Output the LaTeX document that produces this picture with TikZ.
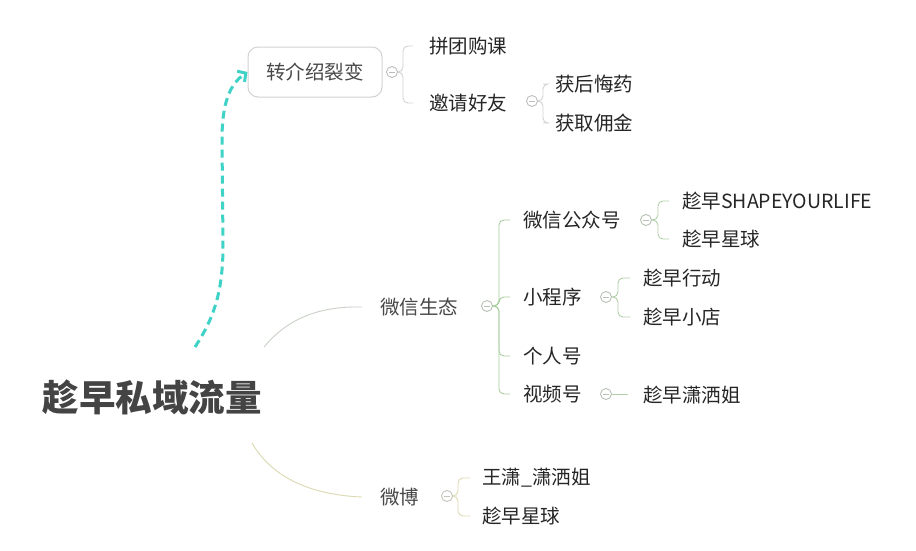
\documentclass[tikz,border=0pt]{standalone}
\usepackage{fontspec}
\setmainfont{Noto Sans CJK SC}
\usetikzlibrary{arrows.meta}
\definecolor{txt}{HTML}{262626}
\definecolor{midtxt}{HTML}{484848}
\definecolor{rootc}{HTML}{444444}
\definecolor{greyline}{HTML}{D2D2D2}
\definecolor{greenline}{HTML}{A9CE9E}
\definecolor{beige}{HTML}{DCD9B2}
\definecolor{foldc}{HTML}{BDBDBD}
\definecolor{teal}{HTML}{3FD2C6}
\tikzset{
  leaf/.style={anchor=west, inner sep=0pt, text=txt, font=\fontsize{19.5}{19.5}\selectfont},
  mid/.style={anchor=west, inner sep=0pt, text=midtxt, font=\fontsize{19.5}{19.5}\selectfont},
  fold/.style={circle, draw=#1, line width=0.9pt, minimum size=11pt, inner sep=0pt, fill=white,
    path picture={\draw[#1, line width=0.9pt] ([xshift=-2.6pt]path picture bounding box.center) -- ([xshift=2.6pt]path picture bounding box.center);}},
  fold/.default=foldc,
  brk/.style={draw=#1, line width=0.9pt, rounded corners=5pt},
  boxst/.style={draw=greyline, line width=1pt, rounded corners=10pt, minimum width=134pt, minimum height=50pt, inner sep=0pt, text=midtxt, font=\fontsize{19.5}{19.5}\selectfont},
}
\begin{document}
\begin{tikzpicture}[x=1pt,y=-1pt]
\useasboundingbox[fill=white] (0,0) rectangle (916,550);

% root
\node[inner sep=0pt, text=rootc, font=\fontsize{36.5}{36.5}\selectfont\bfseries] (root) at (152,397) {趁早私域流量};

% referral branch
\node[boxst] (zj) at (315,72) {转介绍裂变};
\node[fold] (f1) at (392,72) {};
\node[leaf] (pt) at (429,46) {拼团购课};
\node[leaf] (yq) at (429,103) {邀请好友};
\node[fold] (f2) at (532,101) {};
\node[leaf] (hh) at (555,84) {获后悔药};
\node[leaf] (hq) at (555,123) {获取佣金};

\draw[brk=greyline] (f1.east) -- ++(5,0) |- ([xshift=-16pt]pt.west);
\draw[brk=greyline] (f1.east) -- ++(5,0) |- ([xshift=-16pt]yq.west);
\draw[brk=greyline] (f2.east) -- ++(5,0) |- ([xshift=-12pt]hh.west);
\draw[brk=greyline] (f2.east) -- ++(5,0) |- ([xshift=-12pt]hq.west);

% dashed arrow
\coordinate (a0) at (195,347);
\draw[teal, line width=3pt, dash pattern=on 8pt off 5pt, -{Straight Barb[length=6pt,width=13pt,line width=3pt]}]
  (a0) .. controls (214,318) and (223,292) .. (223,245) -- (222,140)
  .. controls (222,102) and (230,84) .. (zj.west);

% WeChat branch
\node[mid] (wx) at (380,307) {微信生态};
\coordinate (r1) at (264,347);
\draw[greyline!80!greenline, line width=0.9pt] (r1) .. controls (288,318) and (320,306) .. ([xshift=-18pt]wx.west);
\node[fold=foldc!70!greenline] (f3) at (487,306) {};
\node[leaf] (gzh) at (523,220) {微信公众号};
\node[leaf] (xcx) at (523,297) {小程序};
\node[leaf] (grh) at (523,356) {个人号};
\node[leaf] (sph) at (523,394) {视频号};
\foreach \c in {gzh,xcx,grh,sph}
  \draw[brk=greenline] (f3.east) -- ++(6,0) |- ([xshift=-13pt]\c.west);

\node[fold=foldc!70!greenline] (f4) at (646,220) {};
\node[leaf] (sy) at (682,201) {趁早SHAPEYOURLIFE};
\node[leaf] (xq1) at (682,239) {趁早星球};
\draw[brk=greenline!80!greyline] (f4.east) -- ++(6,0) |- ([xshift=-13pt]sy.west);
\draw[brk=greenline!80!greyline] (f4.east) -- ++(6,0) |- ([xshift=-13pt]xq1.west);

\node[fold=foldc!70!greenline] (f5) at (606,297) {};
\node[leaf] (xd) at (643,278) {趁早行动};
\node[leaf] (xdian) at (643,317) {趁早小店};
\draw[brk=greenline!80!greyline] (f5.east) -- ++(6,0) |- ([xshift=-13pt]xd.west);
\draw[brk=greenline!80!greyline] (f5.east) -- ++(6,0) |- ([xshift=-13pt]xdian.west);

\node[fold=foldc!70!greenline] (f6) at (606,394) {};
\node[leaf] (xsj) at (643,395) {趁早潇洒姐};
\draw[greenline!80!greyline, line width=0.9pt] (f6.east) -- ([xshift=-15pt]xsj.west |- f6.east);

% Weibo branch
\node[mid] (wb) at (380,497) {微博};
\coordinate (r2) at (252,443);
\draw[beige, line width=0.9pt] (r2) .. controls (272,478) and (312,495) .. ([xshift=-18pt]wb.west);
\node[fold=foldc!70!beige] (f7) at (447,496) {};
\node[leaf] (wx2) at (482,478) {王潇\_潇洒姐};
\node[leaf] (xq2) at (482,516) {趁早星球};
\draw[brk=beige] (f7.east) -- ++(5,0) |- ([xshift=-12pt]wx2.west);
\draw[brk=beige] (f7.east) -- ++(5,0) |- ([xshift=-12pt]xq2.west);
\end{tikzpicture}
\end{document}
